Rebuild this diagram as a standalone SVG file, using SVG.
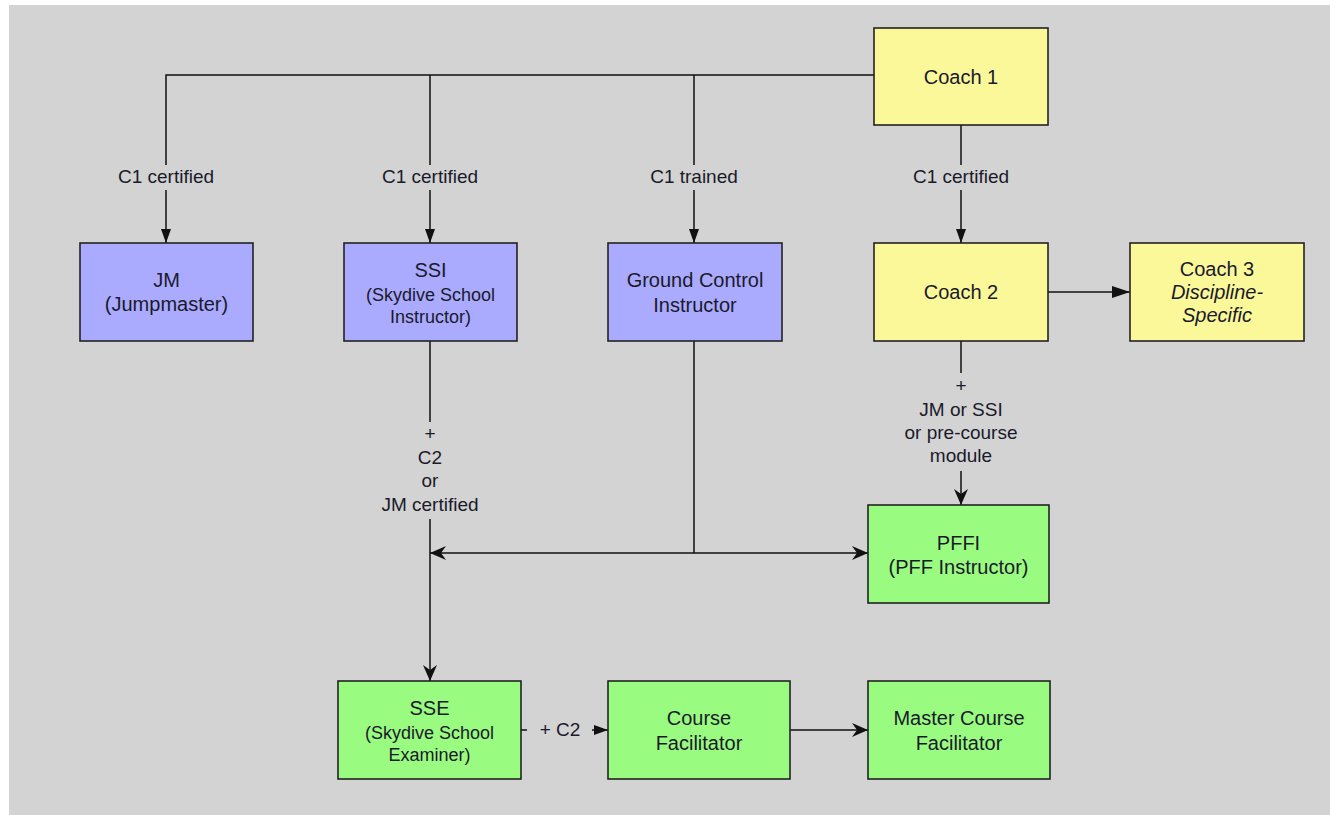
<svg xmlns="http://www.w3.org/2000/svg" width="1330" height="815" viewBox="0 0 1330 815">
<style>
.box{stroke:#222;stroke-width:1.6}
.y{fill:#fbf89a}.b{fill:#aaaaff}.g{fill:#99fb80}
text{font-family:"Liberation Sans",Arial,sans-serif;fill:#1a1a2a;text-anchor:middle}
.t{font-size:20px}.s{font-size:18px}.l{font-size:19px}.i{font-style:italic}
.c{fill:none;stroke:#111;stroke-width:1.5}
</style>
<defs>
<marker id="tri" markerUnits="userSpaceOnUse" viewBox="0 0 14 10" refX="14" refY="5" markerWidth="14" markerHeight="10" orient="auto"><path d="M0,0 L14,5 L0,10 z" fill="#111"/></marker>
<marker id="big" markerUnits="userSpaceOnUse" viewBox="0 0 18 12" refX="18" refY="6" markerWidth="18" markerHeight="12" orient="auto"><path d="M0,0 L18,6 L0,12 z" fill="#111"/></marker>
<marker id="vee" markerUnits="userSpaceOnUse" viewBox="0 0 16 14" refX="16" refY="7" markerWidth="16" markerHeight="14" orient="auto"><path d="M0,0 L16,7 L0,14 L5,7 z" fill="#111"/></marker>
</defs>
<rect x="9" y="5" width="1321" height="810" fill="#d3d3d3"/>
<g id="connectors" class="c">
<path d="M874,75 H166 V165"/><path d="M166,190 V243" marker-end="url(#tri)"/>
<path d="M430,75 V165"/><path d="M430,190 V243" marker-end="url(#tri)"/>
<path d="M694,75 V165"/><path d="M694,190 V243" marker-end="url(#tri)"/>
<path d="M961,125 V165"/><path d="M961,190 V243" marker-end="url(#tri)"/>
<path d="M1048,292 H1130" marker-end="url(#big)"/>
<path d="M961,341 V373"/><path d="M961,471 V505" marker-end="url(#vee)"/>
<path d="M430,341 V422"/><path d="M430,519 V681" marker-end="url(#vee)"/>
<path d="M694,341 V553 H868" marker-end="url(#vee)"/>
<path d="M694,553 H430" marker-end="url(#vee)"/>
<path d="M521,730 H527"/><path d="M592,730 H608" marker-end="url(#tri)"/>
<path d="M790,730 H868" marker-end="url(#vee)"/>
</g>
<g id="labels">
<text class="l" x="166" y="183">C1 certified</text>
<text class="l" x="430" y="183">C1 certified</text>
<text class="l" x="694" y="183">C1 trained</text>
<text class="l" x="961" y="183">C1 certified</text>
<text class="l" x="430" y="440">+</text>
<text class="l" x="430" y="464">C2</text>
<text class="l" x="430" y="487">or</text>
<text class="l" x="430" y="511">JM certified</text>
<text class="l" x="961" y="392">+</text>
<text class="l" x="961" y="416">JM or SSI</text>
<text class="l" x="961" y="439">or pre-course</text>
<text class="l" x="961" y="462">module</text>
<text class="l" x="560" y="736">+ C2</text>
</g>
<g id="coach1"><rect class="box y" x="874" y="28" width="174" height="97"/><text class="t" x="961" y="84">Coach 1</text></g>
<g id="jm"><rect class="box b" x="80" y="243" width="173" height="98"/><text class="t" x="166.5" y="287">JM</text><text class="t" x="166.5" y="311">(Jumpmaster)</text></g>
<g id="ssi"><rect class="box b" x="344" y="243" width="173" height="98"/><text class="t" x="430.5" y="277">SSI</text><text class="s" x="430.5" y="301">(Skydive School</text><text class="s" x="430.5" y="323">Instructor)</text></g>
<g id="gci"><rect class="box b" x="608" y="243" width="174" height="98"/><text class="t" x="695" y="287">Ground Control</text><text class="t" x="695" y="312">Instructor</text></g>
<g id="coach2"><rect class="box y" x="874" y="243" width="174" height="98"/><text class="t" x="961" y="299">Coach 2</text></g>
<g id="coach3"><rect class="box y" x="1130" y="243" width="174" height="98"/><text class="t" x="1217" y="276">Coach 3</text><text class="t i" x="1217" y="299">Discipline-</text><text class="t i" x="1217" y="322">Specific</text></g>
<g id="pffi"><rect class="box g" x="868" y="505" width="181" height="98"/><text class="t" x="958.5" y="550">PFFI</text><text class="t" x="958.5" y="574">(PFF Instructor)</text></g>
<g id="sse"><rect class="box g" x="338" y="681" width="183" height="98"/><text class="t" x="429.5" y="715">SSE</text><text class="s" x="429.5" y="739">(Skydive School</text><text class="s" x="429.5" y="761">Examiner)</text></g>
<g id="cf"><rect class="box g" x="608" y="681" width="182" height="98"/><text class="t" x="699" y="725">Course</text><text class="t" x="699" y="750">Facilitator</text></g>
<g id="mcf"><rect class="box g" x="868" y="681" width="182" height="98"/><text class="t" x="959" y="725">Master Course</text><text class="t" x="959" y="750">Facilitator</text></g>
</svg>
